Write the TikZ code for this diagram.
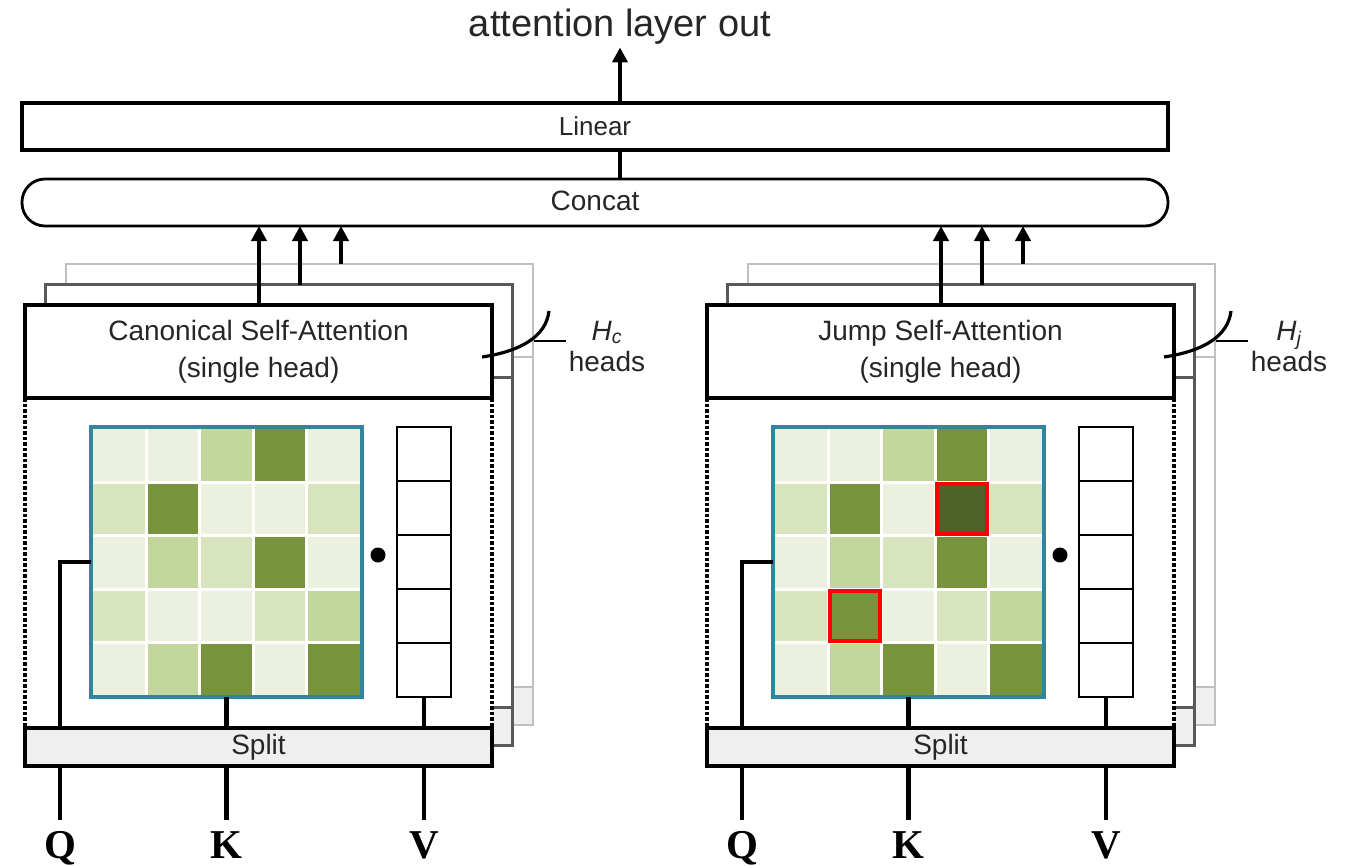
\documentclass[tikz,border=0pt]{standalone}
\usepackage{fontspec}
\setmainfont{Liberation Sans}
\newfontfamily\qkvfont{Liberation Serif}
\usetikzlibrary{arrows.meta,calc}

\definecolor{ink}{HTML}{262626}
\definecolor{cA}{HTML}{EBF1DE}
\definecolor{cB}{HTML}{D7E4BD}
\definecolor{cC}{HTML}{C3D69B}
\definecolor{cD}{HTML}{77933C}
\definecolor{cE}{HTML}{4F6228}
\definecolor{frameblue}{HTML}{31859C}
\definecolor{splitgray}{HTML}{EFEFEF}
\definecolor{layerdark}{HTML}{595959}
\definecolor{layerlight}{HTML}{BFBFBF}

\tikzset{
  box/.style={inner sep=0pt, outer sep=0pt},
  heavy/.style={box, draw=black, line width=4.5pt},
  wire/.style={draw=black, line width=4.5pt},
  uparrow/.style={draw=black, line width=4.5pt, -{Triangle[length=15pt,width=15pt]}},
  dottedside/.style={draw=black, line width=4.5pt, dash pattern=on 3.5pt off 2pt},
  titletxt/.style={text=ink, font=\fontsize{38}{44}\selectfont},
  midtxt/.style={text=ink, font=\fontsize{28}{37}\selectfont},
  lintxt/.style={text=ink, font=\fontsize{26}{30}\selectfont},
  qkv/.style={text=black, inner sep=11pt, font=\qkvfont\bfseries\fontsize{41}{44}\selectfont},
}

% One attention block with its stacked copies.
% #1 name prefix, #2 left edge, #3 block title, #4 head subscript, #5 cell shades (rows)
\newcommand\headblock[5]{%
\begin{scope}[shift={(#2,0)}]
  % copies of the block stacked behind the front one
  \foreach \k/\col/\lw in {2/layerlight/2.5, 1/layerdark/3.5} {
    \node[box, draw=\col, line width=\lw pt, fill=white, minimum width=467, minimum height=461,
          anchor=north west] (#1-layer\k) at (20.5*\k, 305-20.5*\k) {};
    \draw[draw=\col, line width=\lw pt] ([yshift=-93pt]#1-layer\k.north west) -- ([yshift=-93pt]#1-layer\k.north east);
    \node[box, draw=\col, line width=\lw pt, fill=splitgray, minimum width=467, minimum height=38,
          anchor=south west] (#1-lsplit\k) at (#1-layer\k.south west) {};
  }
  % front block
  \node[box, fill=white, minimum width=467, minimum height=461, anchor=north west] (#1-body) at (0,305) {};
  \draw[dottedside] (0,398) -- (0,728);
  \draw[dottedside] (467,398) -- (467,728);
  \node[heavy, fill=white, minimum width=467, minimum height=93, anchor=north west,
        align=center, midtxt] (#1-head) at (0,305) {#3\\(single head)};
  \node[heavy, fill=splitgray, minimum width=467, minimum height=38, anchor=south west,
        midtxt] (#1-split) at (0,766) {Split};
  % attention weights
  \node[box, minimum width=271, minimum height=270, anchor=north west] (#1-att) at (66,427) {};
  \foreach \row [count=\r] in {#5} {
    \foreach \shade [count=\c] in \row {
      \fill[c\shade] (68.25+53.3*\c-53.3, 429.25+53.3*\r-53.3) rectangle ++(53.3,53.3);
    }
  }
  \foreach \i in {1,...,4} {
    \draw[white, line width=3pt] (68.25+53.3*\i, 429.25) -- ++(0,266.5);
    \draw[white, line width=3pt] (68.25, 429.25+53.3*\i) -- ++(266.5,0);
  }
  \draw[frameblue, line width=4.5pt] (#1-att.north west) rectangle (#1-att.south east);
  % value vector
  \node[box, draw=black, line width=2.3pt, minimum width=54, minimum height=270, anchor=north west] (#1-vec) at (372,427) {};
  \foreach \i in {1,...,4} \draw[line width=2.3pt] (372,427+54*\i) -- ++(54,0);
  \fill (353,555) circle[radius=7.5pt];
  % inputs
  \coordinate (#1-qx) at (35,0);
  \draw[wire] (#1-split.north -| #1-qx) |- (#1-att.west);
  \draw[wire] (#1-att.south) -- (#1-att.south |- #1-split.north);
  \draw[wire] (#1-vec.south) -- (#1-vec.south |- #1-split.north);
  \node[qkv, anchor=base] (#1-Q) at (35,858) {Q};
  \node[qkv, anchor=base] (#1-K) at (#1-att.south |- #1-Q.base) {K};
  \node[qkv, anchor=base] (#1-V) at (#1-vec.south |- #1-Q.base) {V};
  \foreach \s in {Q,K,V} \draw[wire] (#1-split.south -| #1-\s) -- (#1-\s.north);
  % outputs of the heads
  \coordinate (#1-o0) at ([xshift=234pt]#1-head.north west);
  \coordinate (#1-o1) at ([xshift=254.5pt]#1-layer1.north west);
  \coordinate (#1-o2) at ([xshift=275pt]#1-layer2.north west);
  \foreach \i in {0,1,2} \draw[uparrow] (#1-o\i) -- (#1-o\i |- concat.south);
  % head count
  \draw[line width=3.2pt] (457,357) .. controls (497,351) and (521,336) .. (524,311);
  \draw[line width=2.5pt] (509,341) -- (541,341);
  \node[align=center, midtxt, font=\fontsize{28}{31}\selectfont] (#1-count) at (582,346)
       {{\itshape H}\textsubscript{\itshape #4}\\heads};
\end{scope}}

\begin{document}
\begin{tikzpicture}[x=1pt, y=-1pt]
  \useasboundingbox (0,0) rectangle (1349,865);
  \fill[white] (0,0) rectangle (1349,865);

  \node[titletxt, anchor=base] (title) at (620,36) {attention layer out};
  \node[heavy, minimum width=1146, minimum height=47, lintxt] (linear) at (595,126.5) {Linear};
  \node[box, draw=black, line width=2.8pt, rounded corners=23pt, minimum width=1146, minimum height=47,
        midtxt] (concat) at (595,202.5) {\raisebox{3pt}{Concat}};
  \draw[uparrow] (title.south |- linear.north) -- (title.south);
  \draw[wire] (title.south |- concat.north) -- (title.south |- linear.south);

  \headblock{C}{25}{Canonical Self-Attention}{c}{
    {A,A,C,D,A},{B,D,A,A,B},{A,C,B,D,A},{B,A,A,B,C},{A,C,D,A,D}}
  \headblock{J}{707}{Jump Self-Attention}{j}{
    {A,A,C,D,A},{B,D,A,E,B},{A,C,B,D,A},{B,D,A,B,C},{A,C,D,A,D}}

  % cells picked out in the jump block
  \begin{scope}[shift={(707,0)}]
    \draw[red, line width=4pt] (68.25+53.3*3+1.5, 429.25+53.3+1.5) rectangle ++(50.3,50.3);
    \draw[red, line width=4pt] (68.25+53.3+1.5, 429.25+53.3*3+1.5) rectangle ++(50.3,50.3);
  \end{scope}
\end{tikzpicture}
\end{document}
